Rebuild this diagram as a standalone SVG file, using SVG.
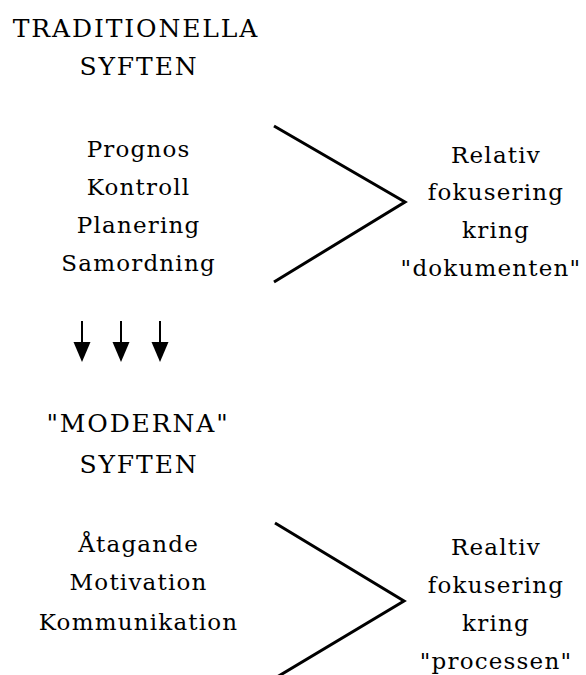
<svg xmlns="http://www.w3.org/2000/svg" width="586" height="675" viewBox="0 0 586 675">
<style>
text{font-family:'DejaVu Serif','Liberation Serif',serif;font-size:23px;fill:#000;text-anchor:middle;letter-spacing:1.2px}
.h{font-size:25px;letter-spacing:1.9px}
.ln{stroke:#000;stroke-width:3;fill:none;stroke-linejoin:miter}
.sh{stroke:#000;stroke-width:2}
</style>
<defs>
<g id="arr"><line class="sh" x1="0" y1="321" x2="0" y2="344"/><polygon points="-8.5,342 8.5,342 0,362" fill="#000"/></g>
</defs>
<rect width="586" height="675" fill="#fff"/>
<g id="trad-title"><text class="h" x="136" y="37">TRADITIONELLA</text><text class="h" x="139" y="75">SYFTEN</text></g>
<g id="trad-list"><text x="138.6" y="157">Prognos</text><text x="138.6" y="195">Kontroll</text><text x="138.6" y="233">Planering</text><text x="138.6" y="271">Samordning</text></g>
<g id="trad-focus"><text x="496" y="163">Relativ</text><text x="496" y="200">fokusering</text><text x="496" y="238">kring</text><text x="491" y="276">"dokumenten"</text></g>
<g id="mod-title"><text class="h" x="138" y="432">"MODERNA"</text><text class="h" x="139" y="473">SYFTEN</text></g>
<g id="mod-list"><text x="138.6" y="552">Åtagande</text><text x="138.6" y="590">Motivation</text><text x="138.6" y="630">Kommunikation</text></g>
<g id="mod-focus"><text x="496" y="555">Realtiv</text><text x="496" y="593">fokusering</text><text x="496" y="631">kring</text><text x="496" y="669">"processen"</text></g>
<g id="connectors">
<polyline class="ln" points="274,126 405,202 274,282"/>
<polyline class="ln" points="275,523 404,601 272,680"/>
<use href="#arr" x="82"/><use href="#arr" x="121"/><use href="#arr" x="160"/>
</g>
</svg>
